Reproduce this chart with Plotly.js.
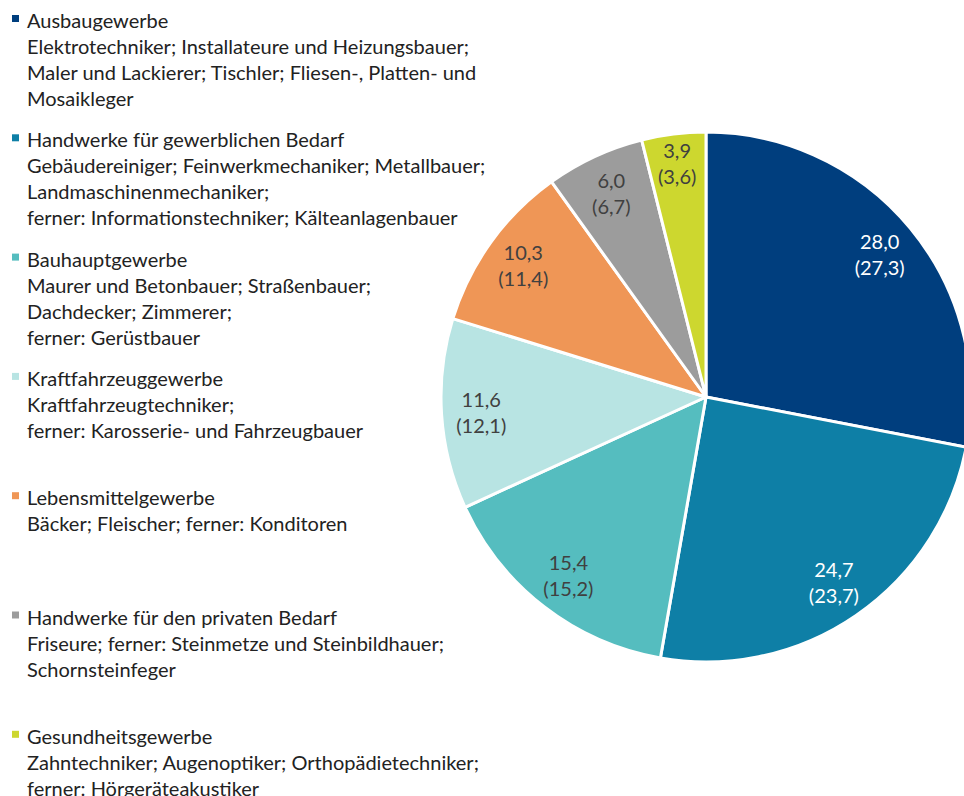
<!DOCTYPE html>
<html>
<head>
<meta charset="utf-8">
<script src="https://cdn.plot.ly/plotly-3.0.1.min.js"></script>
<style>
html, body { margin:0; padding:0; overflow:hidden; background:#fff; }
#chart { width:990px; height:796px; }
</style>
</head>
<body>
<div id="chart"></div>
<script>
// Data
const categories = [
  "Ausbaugewerbe",
  "Handwerke für gewerblichen Bedarf",
  "Bauhauptgewerbe",
  "Kraftfahrzeuggewerbe",
  "Lebensmittelgewerbe",
  "Handwerke für den privaten Bedarf",
  "Gesundheitsgewerbe"
];
const descriptions = [
  ["Elektrotechniker; Installateure und Heizungsbauer;", "Maler und Lackierer; Tischler; Fliesen-, Platten- und", "Mosaikleger"],
  ["Gebäudereiniger; Feinwerkmechaniker; Metallbauer;", "Landmaschinenmechaniker;", "ferner: Informationstechniker; Kälteanlagenbauer"],
  ["Maurer und Betonbauer; Straßenbauer;", "Dachdecker; Zimmerer;", "ferner: Gerüstbauer"],
  ["Kraftfahrzeugtechniker;", "ferner: Karosserie- und Fahrzeugbauer"],
  ["Bäcker; Fleischer; ferner: Konditoren"],
  ["Friseure; ferner: Steinmetze und Steinbildhauer;", "Schornsteinfeger"],
  ["Zahntechniker; Augenoptiker; Orthopädietechniker;", "ferner: Hörgeräteakustiker"]
];
const shareCurrent = [28.0, 24.7, 15.4, 11.6, 10.3, 6.0, 3.9];
const sharePrevious = [27.3, 23.7, 15.2, 12.1, 11.4, 6.7, 3.6];

// Styles
const colors = ["#003e7e", "#0e7fa6", "#55bdbf", "#b8e4e3", "#ef9656", "#9c9c9c", "#cdd72f"];
const labelColors = ["#ffffff", "#ffffff", "#404040", "#404040", "#404040", "#404040", "#404040"];

const W = 990, H = 796;
const cx = 706, cy = 397, R = 265;

const annotations = [];
const shapes = [];
const entryStep = 119.3, lineStep = 26, firstY = 20;
categories.forEach((cat, i) => {
  const lines = [cat].concat(descriptions[i]);
  const top = firstY + entryStep * i;
  lines.forEach((ln, j) => {
    annotations.push({
      text: ln, xref: "paper", yref: "paper",
      x: 25 / W, y: 1 - (top + lineStep * j) / H,
      xanchor: "left", yanchor: "middle", showarrow: false,
      font: { family: "Lato, sans-serif", size: 20, color: "#222222" }
    });
  });
  shapes.push({
    type: "rect", xref: "paper", yref: "paper",
    x0: 12 / W, x1: 19 / W,
    y0: 1 - (top - 5 + 7) / H, y1: 1 - (top - 5) / H,
    fillcolor: colors[i], line: { width: 0 }
  });
});

const domain = { x: [(cx - R) / W, (cx + R) / W], y: [(H - cy - R) / H, (H - cy + R) / H] };

const pieTrace = {
  type: "pie",
  labels: categories,
  values: shareCurrent,
  sort: false,
  direction: "clockwise",
  rotation: 0,
  marker: { colors: colors, line: { color: "#ffffff", width: 3 } },
  textinfo: "none",
  hoverinfo: "label+value",
  domain: domain,
  showlegend: false
};

// transparent ring on top, used only to place the value labels in the outer part of each slice
const labelTrace = {
  type: "pie",
  labels: categories,
  values: shareCurrent,
  customdata: sharePrevious,
  sort: false,
  direction: "clockwise",
  rotation: 0,
  hole: 0.7,
  marker: { colors: categories.map(() => "rgba(0,0,0,0)"), line: { width: 0 } },
  texttemplate: "%{value:.1f}<br>(%{customdata:.1f})",
  textposition: "inside",
  insidetextorientation: "horizontal",
  textfont: { family: "Lato, sans-serif", size: 20, color: labelColors },
  hoverinfo: "skip",
  domain: domain,
  showlegend: false
};

const layout = {
  width: W, height: H,
  margin: { l: 0, r: 0, t: 0, b: 0 },
  paper_bgcolor: "#ffffff",
  separators: ",.",
  showlegend: false,
  annotations: annotations,
  shapes: shapes,
  uniformtext: { mode: "show", minsize: 20 }
};

Plotly.newPlot("chart", [pieTrace, labelTrace], layout, { displayModeBar: false, staticPlot: true });
</script>
</body>
</html>
